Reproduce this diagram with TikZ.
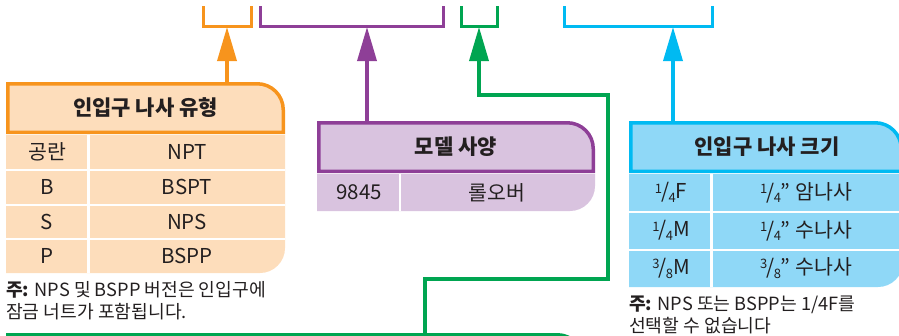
\documentclass[tikz,border=0pt]{standalone}
\usepackage{fontspec}
\setmainfont{Noto Sans CJK KR}
\usetikzlibrary{arrows.meta}
\definecolor{tx}{HTML}{231F20}
\definecolor{ostr}{HTML}{F7941D}
\definecolor{ofil}{HTML}{FDDDBB}
\definecolor{pstr}{HTML}{8E3F97}
\definecolor{pfil}{HTML}{D9C3DF}
\definecolor{gstr}{HTML}{00A551}
\definecolor{gfil}{HTML}{C8E6C9}
\definecolor{bstr}{HTML}{00BAF2}
\definecolor{bfil}{HTML}{8FD8F7}
\newcommand\hsz{\fontsize{21}{24}\selectfont}
\newcommand\rsz{\fontsize{20.5}{24}\selectfont}
\newcommand\nsz{\fontsize{18.2}{22}\selectfont}
\newcommand\myfr[2]{\raisebox{0.5ex}{\fontsize{13}{13}\selectfont #1}\kern-0.04em/\kern-0.04em\raisebox{-0.35ex}{\fontsize{13}{13}\selectfont #2}}
\begin{document}
\begin{tikzpicture}[x=1pt,y=-1pt,
  every node/.style={inner sep=0pt,text=tx},
  hdr/.style={font=\hsz\bfseries},
  cell/.style={font=\rsz},
  note/.style={font=\nsz,anchor=base west,align=left},
  brk/.style={line width=3pt},
  arr/.style={line width=3.5pt,-{Triangle[length=34pt,width=19pt]}},
  hbox/.style={line width=3.5pt},
  sep/.style={white,line width=2pt}]
\useasboundingbox (0,0) rectangle (899,335);
\begin{scope}
\clip (0,0) rectangle (899,335);
% ---------- brackets ----------
\draw[brk,ostr] (203,6) -- (203,26) -- (251,26) -- (251,6);
\draw[brk,pstr] (260,6) -- (260,26) -- (443,26) -- (443,6);
\draw[brk,gstr] (461,6) -- (461,26) -- (497,26) -- (497,6);
\draw[brk,bstr] (564,6) -- (564,26) -- (712,26) -- (712,6);
\coordinate (brA) at (227,27);
\coordinate (brB) at (367,27);
\coordinate (brC) at (479,27);
\coordinate (brD) at (673,27);
% ---------- orange table ----------
\fill[ofil] (6,135) -- (285,135) -- (285,248) arc[start angle=0,end angle=90,radius=25] -- (6,273) -- cycle;
\draw[sep] (6,169.5) -- (285,169.5);
\draw[sep] (6,204.5) -- (285,204.5);
\draw[sep] (6,238.5) -- (285,238.5);
\draw[sep,line width=2.5pt] (88.5,135) -- (88.5,273);
\draw[hbox,ostr,fill=ofil] (7.75,132.25) -- (7.75,83.75) -- (257.25,83.75) arc[start angle=-90,end angle=0,radius=26] -- (283.25,132.25) -- cycle;
\node[hdr] (hA) at (145.5,108) {인입구 나사 유형};
\coordinate (topA) at (227,83);
\node[cell] (a11) at (47,152) {공란};
\node[cell] (a12) at (187,152) {NPT};
\node[cell] (a21) at (47,187) {B};
\node[cell] (a22) at (187,187) {BSPT};
\node[cell] (a31) at (47,221.5) {S};
\node[cell] (a32) at (187,221.5) {NPS};
\node[cell] (a41) at (47,256) {P};
\node[cell] (a42) at (187,256) {BSPP};
\node[note] (nA1) at (6,296) {\textbf{주:} NPS 및 BSPP 버전은 인입구에};
\node[note] (nA2) at (6,318) {잠금 너트가 포함됩니다.};
% ---------- purple table ----------
\fill[pfil] (317,174) -- (595,174) -- (595,186) arc[start angle=0,end angle=90,radius=25] -- (317,211) -- cycle;
\draw[sep,line width=2.5pt] (400,174) -- (400,211);
\draw[hbox,pstr,fill=pfil] (318.75,171.25) -- (318.75,122.75) -- (567.25,122.75) arc[start angle=-90,end angle=0,radius=26] -- (593.25,171.25) -- cycle;
\node[hdr] (hB) at (456,147) {모델 사양};
\coordinate (topB) at (367,122);
\node[cell] (b11) at (359,192.5) {9845};
\node[cell] (b12) at (497,192.5) {롤오버};
% ---------- blue table ----------
\fill[bfil] (629,174) -- (903,174) -- (903,262) arc[start angle=0,end angle=90,radius=25] -- (629,287) -- cycle;
\draw[sep] (629,211.5) -- (903,211.5);
\draw[sep] (629,249.5) -- (903,249.5);
\draw[sep,line width=2.5pt] (711.5,174) -- (711.5,287);
\draw[hbox,bstr,fill=bfil] (630.75,171.25) -- (630.75,122.75) -- (875.25,122.75) arc[start angle=-90,end angle=0,radius=26] -- (901.25,171.25) -- cycle;
\node[hdr] (hD) at (767,147) {인입구 나사 크기};
\coordinate (topD) at (673,122);
\node[cell] (d11) at (671,192.5) {\myfr14F};
\node[cell] (d12) at (806,192.5) {\myfr14” 암나사};
\node[cell] (d21) at (671,230.5) {\myfr14M};
\node[cell] (d22) at (806,230.5) {\myfr14” 수나사};
\node[cell] (d31) at (671,268) {\myfr38M};
\node[cell] (d32) at (806,268) {\myfr38” 수나사};
\node[note] (nD1) at (629,310) {\textbf{주:} NPS 또는 BSPP는 1/4F를};
\node[note] (nD2) at (629,332) {선택할 수 없습니다};
% ---------- green box (bottom, cut off) ----------
\draw[hbox,gstr,fill=gfil] (7.75,380) -- (7.75,334.75) -- (557.25,334.75) arc[start angle=-90,end angle=0,radius=26] -- (583.25,380);
\coordinate (topC) at (425,333);
\coordinate (g1) at (425,279);
\coordinate (g2) at (608,279);
\coordinate (g3) at (608,95);
\coordinate (g4) at (479,95);
% ---------- connectors ----------
\draw[arr,ostr] (topA) -- (brA);
\draw[arr,pstr] (topB) -- (brB);
\draw[arr,bstr] (topD) -- (brD);
\draw[arr,gstr] (topC) -- (g1) -- (g2) -- (g3) -- (g4) -- (brC);
\end{scope}
\end{tikzpicture}
\end{document}
